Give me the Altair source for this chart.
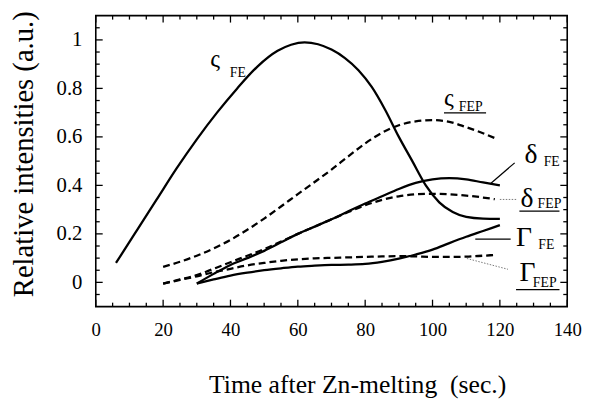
import altair as alt
import pandas as pd

W, H = 478, 295

# ---- series (time in s, relative intensity) ----
zeta_fe_x = [6, 12, 18, 24, 30, 36, 42, 48, 54, 58, 62, 66, 70, 74, 78, 82, 86, 90, 94, 98, 102, 106, 110, 115, 120]
zeta_fe_y = [0.08, 0.21, 0.34, 0.47, 0.59, 0.70, 0.80, 0.89, 0.955, 0.98, 0.99, 0.982, 0.96, 0.925, 0.875, 0.805, 0.71, 0.60, 0.50, 0.40, 0.33, 0.29, 0.27, 0.263, 0.262]

zeta_fep_x = [20, 25, 30, 35, 40, 45, 50, 55, 60, 65, 70, 75, 80, 85, 90, 95, 100, 105, 110, 115, 118.5]
zeta_fep_y = [0.064, 0.085, 0.11, 0.14, 0.175, 0.217, 0.263, 0.313, 0.364, 0.414, 0.465, 0.52, 0.573, 0.617, 0.648, 0.664, 0.669, 0.662, 0.64, 0.615, 0.595]

delta_fe_x = [30, 35, 40, 45, 50, 55, 60, 65, 70, 75, 80, 85, 90, 95, 100, 105, 110, 115, 120]
delta_fe_y = [-0.005, 0.035, 0.072, 0.10, 0.13, 0.165, 0.20, 0.23, 0.26, 0.293, 0.325, 0.355, 0.385, 0.41, 0.425, 0.43, 0.425, 0.412, 0.40]

delta_fep_x = [20, 25, 30, 35, 40, 45, 50, 55, 60, 65, 70, 75, 80, 85, 90, 95, 100, 105, 110, 115, 118.5]
delta_fep_y = [-0.005, 0.012, 0.03, 0.056, 0.083, 0.11, 0.137, 0.168, 0.20, 0.23, 0.26, 0.29, 0.318, 0.34, 0.355, 0.363, 0.365, 0.363, 0.358, 0.35, 0.343]

gamma_fe_x = [30, 35, 40, 45, 50, 55, 60, 65, 70, 75, 80, 85, 90, 95, 100, 105, 110, 115, 120]
gamma_fe_y = [-0.005, 0.012, 0.028, 0.04, 0.05, 0.058, 0.065, 0.069, 0.072, 0.073, 0.076, 0.085, 0.098, 0.115, 0.135, 0.162, 0.188, 0.212, 0.236]

gamma_fep_x = [20, 25, 30, 35, 40, 45, 50, 55, 60, 65, 70, 75, 80, 85, 90, 95, 100, 105, 110, 115, 118.5]
gamma_fep_y = [-0.005, 0.01, 0.025, 0.042, 0.056, 0.07, 0.08, 0.089, 0.095, 0.099, 0.101, 0.103, 0.105, 0.107, 0.108, 0.107, 0.105, 0.105, 0.106, 0.11, 0.113]

# ---- axis ticks ----
x_major = [0, 20, 40, 60, 80, 100, 120, 140]
x_minor = [v for v in range(5, 140, 5) if v % 20 != 0]
y_major = [0, 0.2, 0.4, 0.6, 0.8, 1.0]
y_minor = [-0.05, 0.05, 0.1, 0.15, 0.25, 0.3, 0.35, 0.45, 0.5, 0.55, 0.65, 0.7, 0.75, 0.85, 0.9, 0.95, 1.05]

# ---- annotations ----
lab_main = ["ς", "ς", "δ", "δ", "Γ", "Γ"]
lab_main_x = [34.0, 103.4, 127.3, 126.1, 124.8, 125.8]
lab_main_y = [0.889, 0.727, 0.494, 0.311, 0.149, 0.007]
lab_main_size = [25, 25, 28, 28, 28, 28]
lab_sub = ["FE", "FEP", "FE", "FEP", "FE", "FEP"]
lab_sub_x = [39.8, 107.8, 133.0, 131.2, 131.4, 129.8]
lab_sub_y = [0.845, 0.707, 0.480, 0.305, 0.139, -0.019]

underline_x = [103.4, 125.8, 124.8]
underline_x2 = [115.9, 137.7, 137.7]
underline_y = [0.699, 0.294, -0.03]

solid_leader = {"t": [117.1, 112.7], "t2": [124.4, 123.2], "v": [0.406, 0.178], "v2": [0.493, 0.178]}
dotted_leader = {"t": [120.0, 110.2], "t2": [124.9, 122.4], "v": [0.342, 0.0985], "v2": [0.342, 0.054]}

FONT = "Liberation Serif"

def frame(xs, ys, name):
    return pd.DataFrame({"t": xs, "v": ys, "series": name})

solid_df = pd.concat([frame(zeta_fe_x, zeta_fe_y, "zFE"), frame(delta_fe_x, delta_fe_y, "dFE"),
                      frame(gamma_fe_x, gamma_fe_y, "gFE")])
dashed_df = pd.concat([frame(zeta_fep_x, zeta_fep_y, "zFEP"), frame(delta_fep_x, delta_fep_y, "dFEP"),
                       frame(gamma_fep_x, gamma_fep_y, "gFEP")])

xscale = alt.Scale(domain=[0, 140], nice=False, zero=False)
yscale = alt.Scale(domain=[-0.1, 1.1], nice=False, zero=False)

xaxis = alt.Axis(values=x_major, title="Time after Zn-melting\u00a0 (sec.)", labelFontSize=19,
                 labelPadding=14, titleFontSize=26, titleX=265, titleY=87, titleBaseline="alphabetic",
                 titleAlign="center", labelFlush=False, labelFont=FONT, titleFont=FONT,
                 titleFontWeight="normal", labelColor="black", titleColor="black")
yaxis = alt.Axis(values=y_major, format="~g", title="Relative intensities (a.u.)", labelFontSize=21,
                 labelPadding=14, titleFontSize=29, titleX=-64, titleY=140, titleBaseline="alphabetic",
                 titleAlign="center", titleAngle=270, labelFlush=False, labelFont=FONT, titleFont=FONT,
                 titleFontWeight="normal", labelColor="black", titleColor="black")

solid = alt.Chart(solid_df).mark_line(color="black", strokeWidth=2.3, interpolate="monotone").encode(
    x=alt.X("t:Q", scale=xscale, axis=xaxis),
    y=alt.Y("v:Q", scale=yscale, axis=yaxis),
    detail="series:N",
)
dashed = alt.Chart(dashed_df).mark_line(color="black", strokeWidth=2.3, strokeDash=[7, 4],
                                        interpolate="monotone").encode(
    x=alt.X("t:Q", scale=xscale), y=alt.Y("v:Q", scale=yscale), detail="series:N")

def vticks(vals, x0, x1):
    return alt.Chart(pd.DataFrame({"v": vals})).mark_rule(color="black", strokeWidth=1.3).encode(
        y=alt.Y("v:Q", scale=yscale), x=alt.value(x0), x2=alt.value(x1))

def hticks(vals, y0, y1):
    return alt.Chart(pd.DataFrame({"t": vals})).mark_rule(color="black", strokeWidth=1.3).encode(
        x=alt.X("t:Q", scale=xscale), y=alt.value(y0), y2=alt.value(y1))

ticks = [vticks(y_major, 0, 7), vticks(y_minor, 0, 4), vticks(y_major, W, W - 7), vticks(y_minor, W, W - 4),
         hticks(x_major, H, H - 7), hticks(x_minor, H, H - 4), hticks(x_major, 0, 7), hticks(x_minor, 0, 4)]

main_df = pd.DataFrame({"t": lab_main_x, "v": lab_main_y, "txt": lab_main, "size": lab_main_size})
main_text = alt.Chart(main_df).mark_text(align="left", baseline="alphabetic", font=FONT, color="black").encode(
    x=alt.X("t:Q", scale=xscale), y=alt.Y("v:Q", scale=yscale), text="txt:N",
    size=alt.Size("size:Q", scale=None, legend=None))

sub_df = pd.DataFrame({"t": lab_sub_x, "v": lab_sub_y, "txt": lab_sub})
sub_text = alt.Chart(sub_df).mark_text(align="left", baseline="alphabetic", font=FONT, fontSize=14,
                                       color="black").encode(
    x=alt.X("t:Q", scale=xscale), y=alt.Y("v:Q", scale=yscale), text="txt:N")

ul_df = pd.DataFrame({"t": underline_x, "t2": underline_x2, "v": underline_y})
underlines = alt.Chart(ul_df).mark_rule(color="black", strokeWidth=1.2).encode(
    x=alt.X("t:Q", scale=xscale), x2="t2:Q", y=alt.Y("v:Q", scale=yscale))

leaders_solid = alt.Chart(pd.DataFrame(solid_leader)).mark_rule(color="black", strokeWidth=1.2).encode(
    x=alt.X("t:Q", scale=xscale), x2="t2:Q", y=alt.Y("v:Q", scale=yscale), y2="v2:Q")
leaders_dotted = alt.Chart(pd.DataFrame(dotted_leader)).mark_rule(color="#555555", strokeWidth=0.8,
                                                                    strokeDash=[1.5, 1.5]).encode(
    x=alt.X("t:Q", scale=xscale), x2="t2:Q", y=alt.Y("v:Q", scale=yscale), y2="v2:Q")

chart = alt.layer(solid, dashed, *ticks, main_text, sub_text, underlines, leaders_solid, leaders_dotted).properties(
    width=W, height=H,
    padding={"left": 89, "top": 5, "right": 16, "bottom": 98},
    autosize=alt.AutoSizeParams(type="none"),
    background="white",
).configure_view(stroke="black", strokeWidth=1.6).configure_axis(
    grid=False, domain=False, ticks=False, labelFont=FONT, titleFont=FONT, labelColor="black",
    titleColor="black", titleFontWeight="normal",
).configure_text(font=FONT)

chart.save("out.html", embed_options={"renderer": "svg", "actions": False})
